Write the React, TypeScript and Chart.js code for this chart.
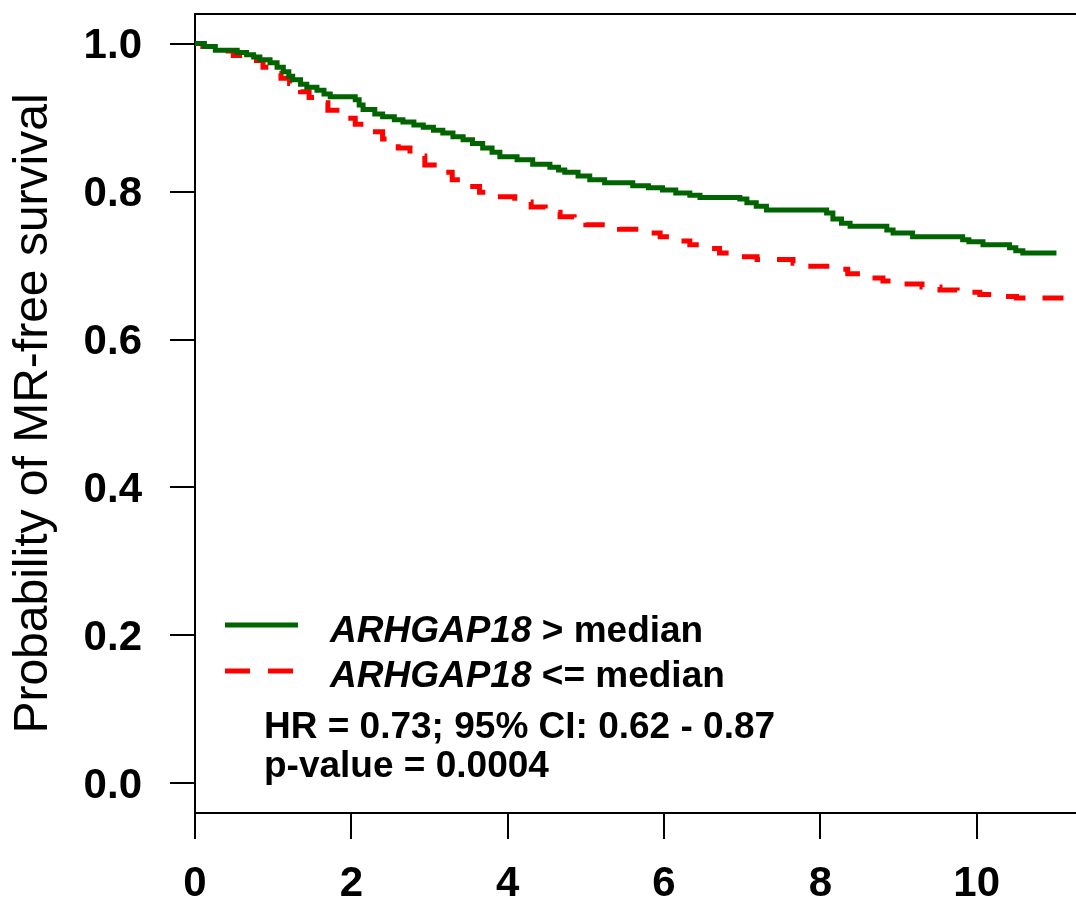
import { useEffect, useRef } from "react";
import { Chart, registerables } from "chart.js";

Chart.register(...registerables);

// ---- data ----
const timesHigh = [0, 0.12, 0.26, 0.54, 0.66, 0.75, 0.83, 0.96, 1.05, 1.13, 1.2, 1.25, 1.35, 1.43, 1.56, 1.65, 1.73, 2.05, 2.1, 2.15, 2.3, 2.4, 2.55, 2.66, 2.8, 2.92, 3.05, 3.17, 3.3, 3.43, 3.55, 3.68, 3.8, 3.9, 4.12, 4.32, 4.54, 4.65, 4.73, 4.9, 5.05, 5.24, 5.6, 5.8, 5.98, 6.15, 6.33, 6.46, 6.97, 7.06, 7.18, 7.31, 8.08, 8.16, 8.27, 8.38, 8.85, 8.93, 9.18, 9.82, 9.9, 10.08, 10.42, 10.5, 10.59, 11.02];
const survHigh = [1.0, 0.996, 0.991, 0.988, 0.985, 0.982, 0.978, 0.974, 0.968, 0.962, 0.956, 0.951, 0.945, 0.941, 0.937, 0.932, 0.928, 0.924, 0.917, 0.911, 0.905, 0.901, 0.897, 0.894, 0.89, 0.887, 0.883, 0.879, 0.874, 0.87, 0.865, 0.859, 0.853, 0.847, 0.843, 0.837, 0.833, 0.829, 0.826, 0.821, 0.816, 0.812, 0.808, 0.805, 0.802, 0.798, 0.795, 0.792, 0.79, 0.785, 0.78, 0.775, 0.771, 0.763, 0.757, 0.753, 0.748, 0.744, 0.739, 0.735, 0.732, 0.728, 0.724, 0.72, 0.717, 0.717];

const timesLow = [0, 0.1, 0.3, 0.49, 0.65, 0.87, 1.0, 1.1, 1.21, 1.35, 1.46, 1.56, 1.7, 1.89, 2.05, 2.26, 2.4, 2.6, 2.75, 2.94, 3.1, 3.29, 3.45, 3.64, 3.85, 4.09, 4.3, 4.48, 4.67, 4.85, 5.0, 5.43, 5.7, 5.95, 6.15, 6.33, 6.5, 6.71, 6.9, 7.19, 7.65, 7.8, 8.15, 8.35, 8.59, 8.8, 9.05, 9.3, 9.53, 9.75, 10.04, 10.3, 10.51, 11.19];
const survLow = [1.0, 0.996, 0.99, 0.984, 0.977, 0.968, 0.96, 0.953, 0.946, 0.935, 0.927, 0.92, 0.91, 0.899, 0.891, 0.881, 0.871, 0.859, 0.848, 0.836, 0.826, 0.816, 0.807, 0.799, 0.793, 0.786, 0.779, 0.772, 0.766, 0.759, 0.755, 0.749, 0.744, 0.739, 0.733, 0.728, 0.723, 0.717, 0.712, 0.708, 0.703, 0.699, 0.695, 0.689, 0.683, 0.679, 0.675, 0.671, 0.667, 0.664, 0.661, 0.658, 0.656, 0.656];

const xTicks = [0, 2, 4, 6, 8, 10];
const yTicks = [0, 0.2, 0.4, 0.6, 0.8, 1.0];
const seriesGenes = ["ARHGAP18", "ARHGAP18"];
const seriesSuffixes = [" > median", " <= median"];
const seriesColors = ["#006400", "#ff0000"];
const statLines = ["HR = 0.73; 95% CI: 0.62 - 0.87", "p-value = 0.0004"];
const yTitle = "Probability of MR-free survival";

const FONT = "'Liberation Sans', Arial, sans-serif";
const RED_DASH = [21, 17];

const overlayPlugin = {
  id: "overlay",
  afterDraw(chart: any) {
    const ctx = chart.ctx;
    const { left, top, right } = chart.chartArea;
    ctx.save();
    // top border of the box
    ctx.strokeStyle = "#000";
    ctx.lineWidth = 2;
    ctx.setLineDash([]);
    ctx.beginPath();
    ctx.moveTo(left - 1, top);
    ctx.lineTo(right, top);
    ctx.stroke();

    // legend
    const lineY = [625, 671];
    const baseY = [642, 687];
    const lineEnd = [298, 293];
    for (let i = 0; i < seriesGenes.length; i++) {
      ctx.strokeStyle = seriesColors[i];
      ctx.lineWidth = 5;
      ctx.lineCap = "butt";
      ctx.setLineDash(i === 1 ? [25, 18] : []);
      ctx.beginPath();
      ctx.moveTo(225, lineY[i]);
      ctx.lineTo(lineEnd[i], lineY[i]);
      ctx.stroke();
      ctx.setLineDash([]);
      ctx.fillStyle = "#000";
      ctx.textBaseline = "alphabetic";
      ctx.textAlign = "left";
      ctx.font = `italic bold 37px ${FONT}`;
      ctx.fillText(seriesGenes[i], 330, baseY[i]);
      const w = ctx.measureText(seriesGenes[i]).width;
      ctx.font = `bold 37px ${FONT}`;
      ctx.fillText(seriesSuffixes[i], 330 + w, baseY[i]);
    }
    const statY = [738, 777];
    ctx.font = `bold 37px ${FONT}`;
    for (let i = 0; i < statLines.length; i++) {
      ctx.fillText(statLines[i], 264, statY[i]);
    }
    ctx.restore();
  },
};

export default function App() {
  const ref = useRef<HTMLCanvasElement | null>(null);
  useEffect(() => {
    if (!ref.current) return;
    Chart.defaults.font.family = FONT;
    const chart = new Chart(ref.current, {
      type: "line",
      data: {
        datasets: [
          {
            label: seriesGenes[0] + seriesSuffixes[0],
            data: timesHigh.map((t, i) => ({ x: t, y: survHigh[i] })),
            borderColor: seriesColors[0],
            borderWidth: 5,
            pointRadius: 0,
            stepped: "before",
            fill: false,
          },
          {
            label: seriesGenes[1] + seriesSuffixes[1],
            data: timesLow.map((t, i) => ({ x: t, y: survLow[i] })),
            borderColor: seriesColors[1],
            borderWidth: 5,
            borderDash: RED_DASH,
            pointRadius: 0,
            stepped: "before",
            fill: false,
          },
        ],
      },
      options: {
        animation: false,
        responsive: false,
        layout: { padding: { top: 14, left: 0, right: 0, bottom: 0 } },
        plugins: { legend: { display: false }, tooltip: { enabled: false } },
        scales: {
          x: {
            type: "linear",
            min: 0,
            max: 11.27,
            afterFit: (s: any) => {
              s.height = 90;
              s.paddingLeft = 0;
              s.paddingRight = 0;
            },
            afterBuildTicks: (s: any) => {
              s.ticks = xTicks.map((v) => ({ value: v }));
            },
            ticks: {
              font: { size: 42, weight: "bold" },
              color: "#000",
              padding: 20,
              maxRotation: 0,
              autoSkip: false,
            },
            grid: {
              display: true,
              drawOnChartArea: false,
              drawTicks: true,
              tickLength: 26,
              color: "#000",
              lineWidth: 2,
            },
            border: { display: true, color: "#000", width: 2 },
          },
          y: {
            type: "linear",
            min: -0.04,
            max: 1.04,
            afterFit: (s: any) => {
              s.width = 195;
              s.paddingTop = 0;
              s.paddingBottom = 0;
            },
            afterBuildTicks: (s: any) => {
              s.ticks = yTicks.map((v) => ({ value: v }));
            },
            ticks: {
              font: { size: 42, weight: "bold" },
              color: "#000",
              padding: 28,
              labelOffset: 3,
              autoSkip: false,
              callback: (v: any) => Number(v).toFixed(1),
            },
            grid: {
              display: true,
              drawOnChartArea: false,
              drawTicks: true,
              tickLength: 25,
              color: "#000",
              lineWidth: 2,
            },
            border: { display: true, color: "#000", width: 2 },
            title: {
              display: true,
              text: yTitle,
              color: "#000",
              font: { size: 48, weight: "normal" },
              padding: { top: 5, bottom: 0 },
            },
          },
        },
      },
      plugins: [overlayPlugin],
    });
    return () => chart.destroy();
  }, []);
  return (
    <div style={{ position: "absolute", left: 0, top: 0, width: 1076, height: 903, background: "#fff" }}>
      <canvas ref={ref} width={1076} height={903} style={{ display: "block" }} />
    </div>
  );
}
